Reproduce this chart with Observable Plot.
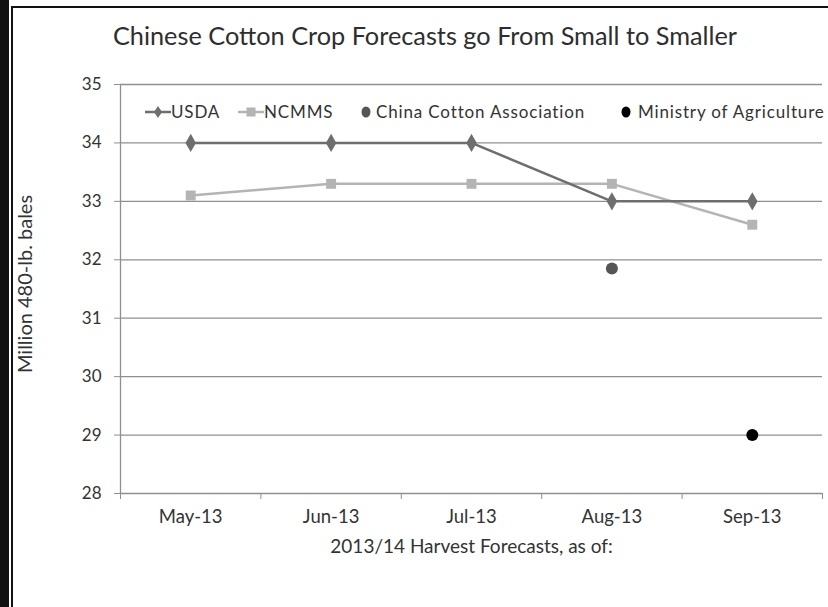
<!DOCTYPE html>
<html><head><meta charset="utf-8">
<script src="https://cdn.jsdelivr.net/npm/d3@7"></script>
<script src="https://cdn.jsdelivr.net/npm/@observablehq/plot@0.6"></script>
<style>
html,body{margin:0;background:#fff;overflow:hidden;}
body{font-family:Lato,"Open Sans",sans-serif;color:#333;}
#wrap{position:relative;width:828px;height:607px;overflow:hidden;background:#fff;}
#title{position:absolute;left:0;top:0;width:850px;height:60px;line-height:70px;text-align:center;font-size:25.3px;color:#2e2e2e;}
#chart{position:absolute;left:0;top:60px;}
.blkL{position:absolute;left:0;top:0;width:9px;height:607px;background:#111;}
.bdrL{position:absolute;left:11px;top:6px;width:2px;height:601px;background:#111;}
.bdrT{position:absolute;left:11px;top:6px;width:817px;height:2px;background:#111;}
.lg{position:absolute;top:102px;height:20px;line-height:20px;font-size:17px;letter-spacing:0.85px;color:#333;white-space:nowrap;}
.lg svg{position:absolute;top:0;left:0;}
</style></head><body>
<div id="wrap">
  <div id="title">Chinese Cotton Crop Forecasts go From Small to Smaller</div>
  <div id="chart"></div>
  <div class="blkL"></div><div class="bdrL"></div><div class="bdrT"></div>
  <div id="legend"></div>
</div>
<script>
const months = ["May-13","Jun-13","Jul-13","Aug-13","Sep-13"];
const usda = [34,34,34,33,33];
const ncmms = [33.1,33.3,33.3,33.3,32.6];
const ccaMonths = ["Aug-13"];
const cca = [31.85];
const moaMonths = ["Sep-13"];
const moa = [29];
const yTicks = [28,29,30,31,32,33,34,35];
const seriesNames = ["USDA","NCMMS","China Cotton Association","Ministry of Agriculture"];
const colors = ["#6e6e6e","#b4b4b4","#555555","#000000"];

const pos = m => months.indexOf(m) + 0.5;
const usdaData = months.map((m,i)=>({m, v: usda[i]}));
const ncmmsData = months.map((m,i)=>({m, v: ncmms[i]}));
const ccaData = ccaMonths.map((m,i)=>({m, v: cca[i]}));
const moaData = moaMonths.map((m,i)=>({m, v: moa[i]}));
const gridC = "#8f8f8f";

const chart = Plot.plot({
  width: 828, height: 547,
  marginLeft: 120, marginRight: 6, marginTop: 24, marginBottom: 114,
  x: {domain: [0, months.length], axis: null},
  y: {domain: [28, 35], axis: null},
  style: {fontFamily: "Lato, 'Open Sans', sans-serif", fontSize: "17px", color: "#333", background: "transparent", overflow: "hidden"},
  marks: [
    Plot.ruleY(yTicks, {stroke: gridC, strokeWidth: 1.3}),
    Plot.ruleX([0], {stroke: gridC, strokeWidth: 1.3}),
    Plot.axisY({ticks: yTicks, tickSize: 6, tickPadding: 13, stroke: gridC, fill: "#333", label: null, tickFormat: d => String(d)}),
    Plot.axisX({ticks: d3.range(months.length + 1), tickSize: 6, tickFormat: () => "", stroke: gridC, label: null}),
    Plot.axisX({ticks: months.map(pos), tickSize: 0, tickPadding: 16, fontSize: 18.5, tickFormat: d => months[Math.round(d - 0.5)], fill: "#333", label: null}),
    Plot.text(["2013/14 Harvest Forecasts, as of:"], {frameAnchor: "bottom", dy: 59, fontSize: 19, fill: "#333"}),
    Plot.text(["Million 480-lb. bales"], {frameAnchor: "left", dx: -95, dy: -5, rotate: -90, textAnchor: "middle", fontSize: 20, fill: "#333"}),
    Plot.line(ncmmsData, {x: d => pos(d.m), y: "v", stroke: colors[1], strokeWidth: 2.5}),
    Plot.line(usdaData, {x: d => pos(d.m), y: "v", stroke: colors[0], strokeWidth: 2.5}),
    Plot.dot(ncmmsData, {x: d => pos(d.m), y: "v", symbol: "square", r: 5.6, fill: colors[1], stroke: "none"}),
    Plot.dot(usdaData, {x: d => pos(d.m), y: "v", symbol: "diamond", r: 5.5, fill: colors[0], stroke: "none"}),
    Plot.dot(ccaData, {x: d => pos(d.m), y: "v", r: 6, fill: colors[2], stroke: "none"}),
    Plot.dot(moaData, {x: d => pos(d.m), y: "v", r: 6, fill: colors[3], stroke: "none"})
  ]
});
document.getElementById("chart").appendChild(chart);

// legend
const lg = document.getElementById("legend");
const items = [
  {left: 145, w: 26, kind: "diamond", text: seriesNames[0], c: colors[0]},
  {left: 238, w: 26, kind: "square", text: seriesNames[1], c: colors[1]},
  {left: 359, w: 17, kind: "dot", text: seriesNames[2], c: colors[2]},
  {left: 619, w: 19, kind: "dot", text: seriesNames[3], c: colors[3]}
];
for (const it of items) {
  const d = document.createElement("div");
  d.className = "lg";
  d.style.left = it.left + "px";
  d.style.paddingLeft = it.w + "px";
  let sym = "";
  const cx = 7;
  if (it.kind === "diamond") sym = `<line x1="0" y1="10" x2="26" y2="10" stroke="${it.c}" stroke-width="2.5"/><path d="M13,4 L17,10 L13,16 L9,10Z" fill="${it.c}"/>`;
  if (it.kind === "square") sym = `<line x1="0" y1="10" x2="26" y2="10" stroke="${it.c}" stroke-width="2.5"/><rect x="8.5" y="5.5" width="9" height="9" fill="${it.c}"/>`;
  if (it.kind === "dot") sym = `<ellipse cx="${cx}" cy="10" rx="4.5" ry="5.5" fill="${it.c}"/>`;
  d.innerHTML = `<svg width="${it.w}" height="20">${sym}</svg>${it.text}`;
  lg.appendChild(d);
}
</script>
</body></html>
